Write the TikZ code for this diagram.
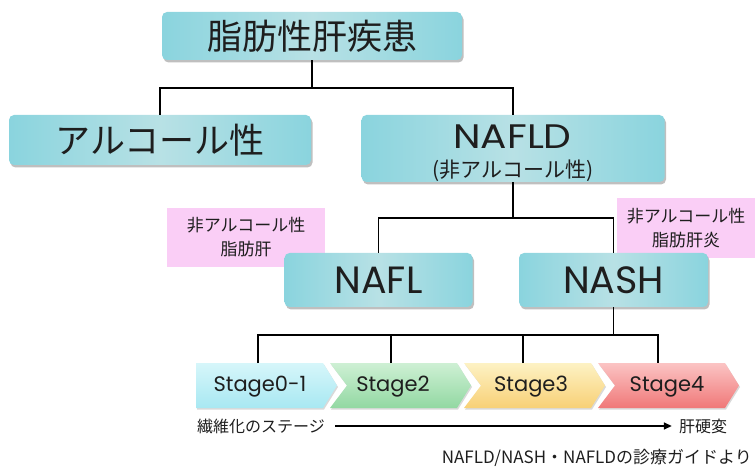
\documentclass[tikz,border=0pt]{standalone}
\usepackage{fontspec}
\setmainfont{Noto Sans CJK JP}
\newfontfamily\lat{Poppins}
\usetikzlibrary{shadows,arrows.meta}
\definecolor{boxside}{RGB}{138,212,222}
\definecolor{boxmid}{RGB}{184,225,229}
\definecolor{pinkbg}{RGB}{250,206,246}
\definecolor{cyT}{RGB}{214,246,250}
\definecolor{cyB}{RGB}{168,232,242}
\definecolor{grT}{RGB}{206,240,212}
\definecolor{grB}{RGB}{146,216,162}
\definecolor{yeT}{RGB}{253,242,196}
\definecolor{yeB}{RGB}{248,208,118}
\definecolor{reT}{RGB}{251,196,196}
\definecolor{reB}{RGB}{240,120,120}
\definecolor{txt}{RGB}{30,30,30}
\tikzset{
  tbox/.style={rectangle, rounded corners=5pt, left color=boxside, right color=boxside, middle color=boxmid,
    drop shadow={shadow xshift=1.5pt, shadow yshift=-2.5pt, opacity=0.25, fill=black},
    inner sep=0pt, align=center, text=txt},
  pinklab/.style={rectangle, fill=pinkbg, inner sep=0pt, align=center, text=txt, font=\fontsize{17}{24}\selectfont},
  conn/.style={draw=black, line width=1.8pt},
  chev/.style={drop shadow={shadow xshift=1pt, shadow yshift=-1.5pt, opacity=0.15, fill=black}},
  stagetxt/.style={inner sep=0pt, text=txt, font=\lat\fontsize{21}{24}\selectfont},
  bigtxt/.style={font=\lat\fontsize{38}{40}\selectfont},
  smalltxt/.style={inner sep=0pt, text=txt, font=\fontsize{16}{18}\selectfont}
}
\begin{document}
\begin{tikzpicture}[x=1pt,y=-1pt]
\useasboundingbox (0,0) rectangle (755,470);
% pink labels
\node[pinklab, minimum width=158pt, minimum height=59pt] (p1) at (246,237.5) {非アルコール性\\脂肪肝};
\node[pinklab, minimum width=138pt, minimum height=60pt] (p2) at (686,228) {非アルコール性\\脂肪肝炎};
% boxes
\node[tbox, minimum width=300pt, minimum height=48pt, font=\fontsize{35}{40}\selectfont] (top) at (312,36) {脂肪性肝疾患};
\node[tbox, minimum width=302pt, minimum height=50pt, font=\fontsize{35}{40}\selectfont] (alc) at (160,140) {アルコール性};
\node[tbox, minimum width=303pt, minimum height=67pt] (nafld) at (513,148.5) {};
\node[inner sep=0pt, text=txt, font=\lat\fontsize{34}{36}\selectfont] (nafldA) at (512.5,136.5) {\scalebox{1.15}[1]{NAFLD}};
\node[inner sep=0pt, text=txt, font=\fontsize{21}{24}\selectfont] (nafldB) at (513,171) {(非アルコール性)};
\node[tbox, minimum width=188pt, minimum height=54pt, bigtxt] (nafl) at (378.5,280) {\raisebox{-1.5pt}{NAFL}};
\node[tbox, minimum width=189pt, minimum height=54pt, bigtxt] (nash) at (613.5,280) {\raisebox{-1.5pt}{NASH}};
% junctions
\coordinate (j1) at (312,88);
\coordinate (j2) at (513,218);
\coordinate (j3) at (613.5,335);
\draw[conn] (top.south) -- (j1);
\draw[conn] (alc.north) |- (j1) -| (nafld.north);
\draw[conn] (nafld.south) -- (j2);
\draw[conn] (nafl.north) |- (j2) -| (nash.north);
\draw[conn] (nash.south) -- (j3);
% chevrons
\path[chev, top color=cyT, bottom color=cyB] (196,363) -- (323,363) -- (337,385.5) -- (323,408) -- (196,408) -- cycle;
\path[chev, top color=grT, bottom color=grB] (330,363) -- (457,363) -- (471,385.5) -- (457,408) -- (330,408) -- (347,385.5) -- cycle;
\path[chev, top color=yeT, bottom color=yeB] (464,363) -- (591,363) -- (605,385.5) -- (591,408) -- (464,408) -- (481,385.5) -- cycle;
\path[chev, top color=reT, bottom color=reB] (598,363) -- (725,363) -- (739,385.5) -- (725,408) -- (598,408) -- (615,385.5) -- cycle;
\node[stagetxt] (s1) at (260,387) {Stage0-1};
\node[stagetxt] (s2) at (393,387) {Stage2};
\node[stagetxt] (s3) at (531,387) {Stage3};
\node[stagetxt] (s4) at (667,387) {Stage4};
\coordinate (t1) at (258,363);
\coordinate (t2) at (391,363);
\coordinate (t3) at (523,363);
\coordinate (t4) at (658,363);
\draw[conn] (t1) |- (j3) -| (t4);
\draw[conn] (t2) -- (t2 |- j3);
\draw[conn] (t3) -- (t3 |- j3);
% fibrosis arrow
\node[smalltxt] (fib) at (261,426) {繊維化のステージ};
\node[smalltxt] (cir) at (703,426) {肝硬変};
\draw[line width=1.6pt, -{Triangle[length=8pt,width=7pt]}, shorten <=10pt, shorten >=7pt] (fib.east) -- (cir.west);
% citation
\node[anchor=east, inner sep=0pt, text=txt, font=\fontsize{17}{20}\selectfont] (cite) at (752,458) {NAFLD/NASH・NAFLDの診療ガイドより};
\end{tikzpicture}
\end{document}
